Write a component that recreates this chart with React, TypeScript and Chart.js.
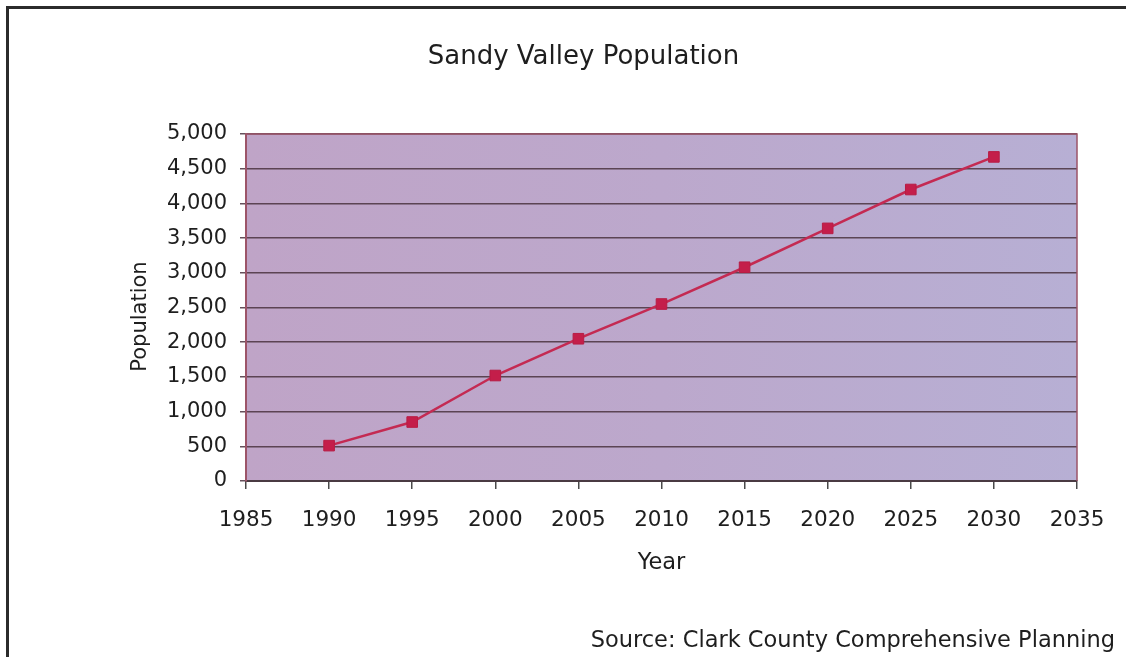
import { useEffect, useRef } from "react";
import { Chart, registerables } from "chart.js";

Chart.register(...registerables);

// Population by year (actual and projected)
const years = [1990, 1995, 2000, 2005, 2010, 2015, 2020, 2025, 2030];
const population = [510, 850, 1520, 2050, 2550, 3080, 3640, 4200, 4670];

const yearMin = 1985;
const yearMax = 2035;
const yearStep = 5;
const popMin = 0;
const popMax = 5000;
const popStep = 500;

const chartTitle = "Sandy Valley Population";
const xAxisTitle = "Year";
const yAxisTitle = "Population";
const sourceNote = "Source: Clark County Comprehensive Planning";

const FONT = "'DejaVu Sans', Verdana, sans-serif";
const TEXT = "#1e1e1e";
const GRID = "rgba(74, 50, 62, 0.85)";
const FRAME_RED = "#9c5468";
const LINE_RED = "#c42a52";

// Lavender plot area, plus the thin border on its top and right sides
const plotBackground = {
  id: "plotBackground",
  beforeDraw(chart: any) {
    const { ctx, chartArea: a } = chart;
    const g = ctx.createLinearGradient(a.left, 0, a.right, 0);
    g.addColorStop(0, "#bfa4c7");
    g.addColorStop(0.5, "#bca8cc");
    g.addColorStop(1, "#b7afd4");
    ctx.save();
    ctx.fillStyle = g;
    ctx.fillRect(a.left, a.top, a.right - a.left, a.bottom - a.top);
    ctx.restore();
  },
  beforeDatasetsDraw(chart: any) {
    const { ctx, chartArea: a } = chart;
    ctx.save();
    ctx.strokeStyle = FRAME_RED;
    ctx.lineWidth = 1.5;
    ctx.beginPath();
    ctx.moveTo(a.left, a.top);
    ctx.lineTo(a.right, a.top);
    ctx.lineTo(a.right, a.bottom);
    ctx.stroke();
    ctx.restore();
  },
};

// Title, rotated y-axis title and the source note
const chartTexts = {
  id: "chartTexts",
  afterDraw(chart: any) {
    const { ctx, chartArea: a } = chart;
    ctx.save();
    ctx.fillStyle = TEXT;

    ctx.font = `26px ${FONT}`;
    ctx.textAlign = "center";
    ctx.textBaseline = "middle";
    ctx.fillText(chartTitle, 583.5, 57);

    ctx.save();
    ctx.translate(141, (a.top + a.bottom) / 2 + 9);
    ctx.rotate(-Math.PI / 2);
    ctx.font = `21px ${FONT}`;
    ctx.fillText(yAxisTitle, 0, 0);
    ctx.restore();

    ctx.font = `22.5px ${FONT}`;
    ctx.textAlign = "right";
    ctx.textBaseline = "alphabetic";
    ctx.fillText(sourceNote, 1115, 647);
    ctx.restore();
  },
};

export default function App() {
  const canvasRef = useRef<HTMLCanvasElement>(null);

  useEffect(() => {
    const canvas = canvasRef.current;
    if (!canvas) return;
    const chart = new Chart(canvas, {
      type: "line",
      data: {
        datasets: [
          {
            label: yAxisTitle,
            data: years.map((y, i) => ({ x: y, y: population[i] })),
            borderColor: LINE_RED,
            borderWidth: 2.5,
            backgroundColor: LINE_RED,
            pointStyle: "rect",
            pointRadius: 7.5,
            pointBorderWidth: 1,
            pointBorderColor: "#b81c44",
            pointBackgroundColor: "#c41e4a",
            tension: 0,
            fill: false,
          },
        ],
      },
      options: {
        responsive: false,
        animation: false,
        devicePixelRatio: 1,
        layout: { padding: { top: 134, left: 0, right: 49, bottom: 0 } },
        plugins: {
          legend: { display: false },
          title: { display: false },
          tooltip: { enabled: false },
        },
        scales: {
          x: {
            type: "linear",
            min: yearMin,
            max: yearMax,
            afterFit(scale: any) {
              scale.height = 176;
            },
            ticks: {
              stepSize: yearStep,
              color: TEXT,
              padding: 19,
              font: { family: FONT, size: 21.5 },
              callback: (v: any) => String(v),
            },
            grid: {
              drawOnChartArea: false,
              drawTicks: true,
              tickLength: 8,
              color: "#4a4a4a",
              lineWidth: 1.5,
            },
            border: { display: true, color: "#4a3a42", width: 2 },
            title: {
              display: true,
              text: xAxisTitle,
              color: TEXT,
              font: { family: FONT, size: 22.5 },
              padding: { top: 0, bottom: 80 },
            },
          },
          y: {
            type: "linear",
            min: popMin,
            max: popMax,
            afterFit(scale: any) {
              scale.width = 246;
            },
            ticks: {
              stepSize: popStep,
              color: TEXT,
              padding: 13,
              font: { family: FONT, size: 21 },
              callback: (v: any) => Number(v).toLocaleString("en-US"),
            },
            grid: {
              drawOnChartArea: true,
              drawTicks: true,
              tickLength: 6,
              color: GRID,
              lineWidth: 1.5,
            },
            border: { display: true, color: FRAME_RED, width: 2 },
          },
        },
      },
      plugins: [plotBackground, chartTexts],
    });
    return () => chart.destroy();
  }, []);

  return (
    <div
      style={{
        position: "fixed",
        left: 0,
        top: 0,
        width: 1126,
        height: 657,
        overflow: "hidden",
        background: "#ffffff",
      }}
    >
      <div
        style={{
          position: "absolute",
          left: 6,
          top: 6,
          width: 1200,
          height: 700,
          borderLeft: "3px solid #2b2b2b",
          borderTop: "3px solid #2b2b2b",
        }}
      />
      <canvas
        ref={canvasRef}
        width={1126}
        height={657}
        style={{ position: "absolute", left: 0, top: 0, width: 1126, height: 657 }}
      />
    </div>
  );
}
